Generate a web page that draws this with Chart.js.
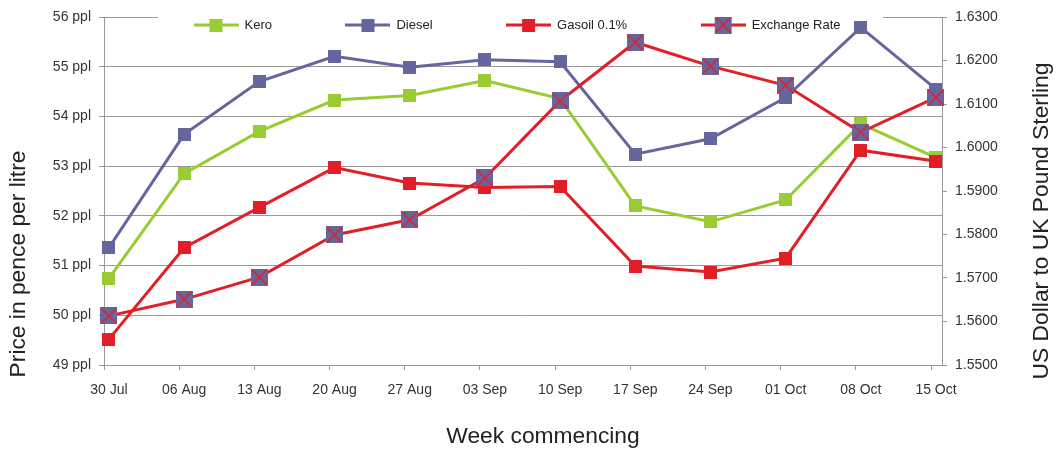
<!DOCTYPE html>
<html>
<head>
<meta charset="utf-8">
<script src="https://cdn.jsdelivr.net/npm/chart.js@4/dist/chart.umd.min.js"></script>
<style>
  html, body { margin: 0; padding: 0; background: #fff; }
  canvas { display: block; }
</style>
</head>
<body>
<canvas id="grafico" width="1056" height="450"></canvas>
<script>
// datos
const weeks = ['30 Jul', '06 Aug', '13 Aug', '20 Aug', '27 Aug', '03 Sep', '10 Sep', '17 Sep', '24 Sep', '01 Oct', '08 Oct', '15 Oct'];
const kero = [50.74, 52.85, 53.70, 54.33, 54.42, 54.72, 54.36, 52.20, 51.88, 52.32, 53.85, 53.17];
const diesel = [51.36, 53.64, 54.70, 55.21, 54.99, 55.14, 55.10, 53.24, 53.55, 54.38, 55.79, 54.55];
const gasoil = [49.52, 51.36, 52.17, 52.97, 52.66, 52.57, 52.59, 50.99, 50.87, 51.15, 53.32, 53.10];
const exchangeRate = [1.5613, 1.5651, 1.5702, 1.5799, 1.5834, 1.5930, 1.6107, 1.6242, 1.6187, 1.6143, 1.6035, 1.6115];

const FONT = "'Liberation Sans', Arial, sans-serif";
const GRIS = '#9a9a9a';
const VERDE = '#99cc33';
const AZUL = '#66669e';
const ROJO = '#e21f26';

// marcador cuadrado (con aspa opcional) y, para la leyenda, con linea
function marcador(relleno, lado, aspa, colorLinea, largo) {
  const w = largo || lado;
  const c = document.createElement('canvas');
  c.width = w;
  c.height = lado;
  const g = c.getContext('2d');
  if (largo) {
    g.strokeStyle = colorLinea;
    g.lineWidth = 3;
    g.beginPath();
    g.moveTo(0, lado / 2);
    g.lineTo(w, lado / 2);
    g.stroke();
  }
  const x0 = (w - lado) / 2;
  g.fillStyle = relleno;
  g.fillRect(x0, 0, lado, lado);
  if (aspa) {
    g.strokeStyle = aspa;
    g.lineWidth = 1.5;
    g.beginPath();
    g.moveTo(x0 + 1, 1);
    g.lineTo(x0 + lado - 1, lado - 1);
    g.moveTo(x0 + lado - 1, 1);
    g.lineTo(x0 + 1, lado - 1);
    g.stroke();
  }
  return c;
}

const iconos = [
  marcador(VERDE, 13, null, VERDE, 45),
  marcador(AZUL, 13, null, AZUL, 45),
  marcador(ROJO, 13, null, ROJO, 45),
  marcador(AZUL, 17, ROJO, ROJO, 45)
];

const puntos = serie => serie.map((v, i) => ({ x: i, y: v }));

// coloca la leyenda dentro del area del grafico, como en Excel
const leyendaDentro = {
  id: 'leyendaDentro',
  afterLayout(chart) {
    const lg = chart.legend;
    lg.left = 120;
    lg.right = 1056;
    lg.top = 25 - 6.5 - 74;
    lg.bottom = 45;
  },
  beforeDatasetsDraw(chart) {
    const ctx = chart.ctx;
    ctx.save();
    ctx.fillStyle = '#ffffff';
    ctx.fillRect(158, 8, 725, 28);
    ctx.restore();
    chart.legend.draw();
  }
};

// titulos de los ejes (el de la derecha se lee de abajo arriba)
const titulosEjes = {
  id: 'titulosEjes',
  afterDraw(chart) {
    const c = chart.ctx;
    c.save();
    c.fillStyle = '#222';
    c.font = '22.8px ' + FONT;
    c.textAlign = 'center';
    c.textBaseline = 'middle';
    c.fillText('Week commencing', 543, 437);
    c.save();
    c.translate(19, 264);
    c.rotate(-Math.PI / 2);
    c.fillText('Price in pence per litre', 0, 0);
    c.restore();
    c.translate(1042, 221);
    c.rotate(-Math.PI / 2);
    c.fillText('US Dollar to UK Pound Sterling', 0, 0);
    c.restore();
  }
};

const ctx = document.getElementById('grafico').getContext('2d');

new Chart(ctx, {
  type: 'line',
  data: {
    datasets: [
      { label: 'Kero', data: puntos(kero), yAxisID: 'y', borderColor: VERDE, backgroundColor: VERDE,
        borderWidth: 3, pointStyle: marcador(VERDE, 13), order: 4, clip: false },
      { label: 'Diesel', data: puntos(diesel), yAxisID: 'y', borderColor: AZUL, backgroundColor: AZUL,
        borderWidth: 3, pointStyle: marcador(AZUL, 13), order: 3, clip: false },
      { label: 'Gasoil 0.1%', data: puntos(gasoil), yAxisID: 'y', borderColor: ROJO, backgroundColor: ROJO,
        borderWidth: 3, pointStyle: marcador(ROJO, 13), order: 2, clip: false },
      { label: 'Exchange Rate', data: puntos(exchangeRate), yAxisID: 'y1', borderColor: ROJO, backgroundColor: AZUL,
        borderWidth: 3, pointStyle: marcador(AZUL, 17, ROJO), order: 1, clip: false }
    ]
  },
  options: {
    responsive: false,
    animation: false,
    devicePixelRatio: 1,
    layout: { padding: { top: 16, left: 0, right: 0, bottom: 0 } },
    elements: { line: { tension: 0 } },
    plugins: {
      tooltip: { enabled: false },
      legend: {
        position: 'top',
        align: 'start',
        maxHeight: 1,
        labels: {
          usePointStyle: true,
          pointStyleWidth: 44,
          padding: 74,
          color: '#222',
          font: { family: FONT, size: 13 },
          generateLabels: chart => chart.data.datasets.map((ds, i) => ({
            text: ds.label,
            pointStyle: iconos[i],
            datasetIndex: i,
            hidden: false,
            lineWidth: 0,
            fontColor: '#222'
          }))
        }
      }
    },
    scales: {
      x: {
        type: 'linear',
        min: -0.066,
        max: 11.08,
        afterBuildTicks: scale => {
          scale.ticks = weeks.map((w, i) => ({ value: i - 0.066 }));
        },
        afterFit: scale => { scale.height = 85; },
        grid: { drawOnChartArea: false, drawTicks: true, tickLength: 5, color: GRIS },
        border: { color: GRIS },
        ticks: {
          autoSkip: false,
          maxRotation: 0,
          labelOffset: 5,
          padding: 12,
          color: '#333',
          font: { family: FONT, size: 14 },
          callback: (v, i) => weeks[i]
        }
      },
      y: {
        position: 'left',
        min: 49,
        max: 56,
        afterFit: scale => { scale.width = 104; },
        grid: { color: GRIS, tickLength: 5 },
        border: { color: GRIS },
        ticks: {
          stepSize: 1,
          padding: 8,
          color: '#333',
          font: { family: FONT, size: 14 },
          callback: v => v + ' ppl'
        }
      },
      y1: {
        position: 'right',
        min: 1.55,
        max: 1.63,
        afterFit: scale => { scale.width = 114; },
        grid: { drawOnChartArea: false, color: GRIS, tickLength: 5 },
        border: { color: GRIS },
        ticks: {
          stepSize: 0.01,
          padding: 8,
          color: '#333',
          font: { family: FONT, size: 14 },
          callback: v => Number(v).toFixed(4)
        }
      }
    }
  },
  plugins: [leyendaDentro, titulosEjes]
});
</script>
</body>
</html>
